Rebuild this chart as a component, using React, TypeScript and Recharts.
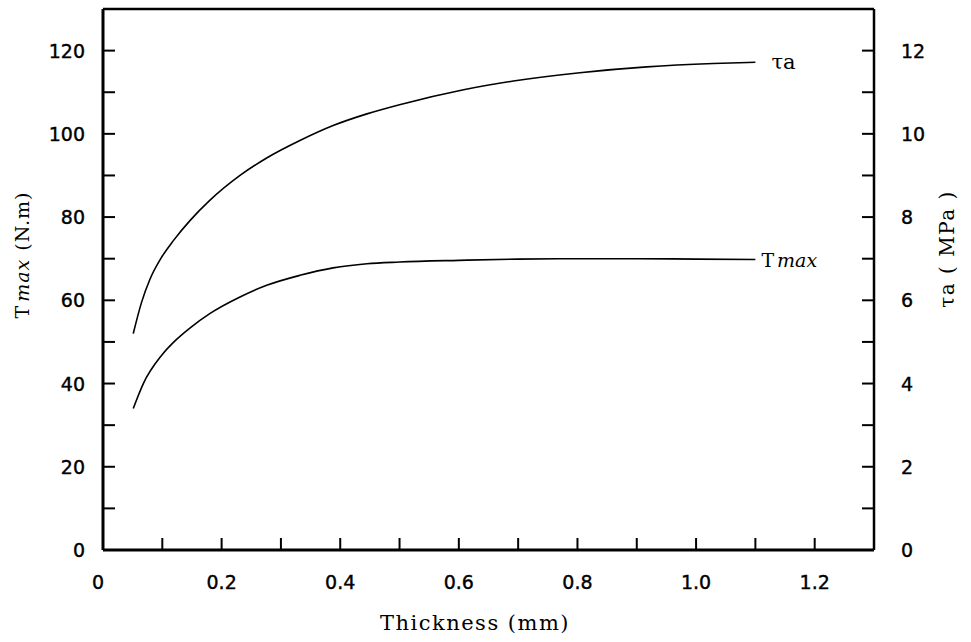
import { LineChart, Line, XAxis, YAxis, ReferenceLine, Label } from 'recharts';

// thickness (mm) and values
const tauThickness = [0.051, 0.065, 0.079, 0.099, 0.119, 0.147, 0.18, 0.231, 0.276, 0.332, 0.388, 0.445, 0.5, 0.608, 0.692, 0.804, 0.917, 1.029, 1.1];
const tauValues = [5.2, 5.95, 6.5, 7.04, 7.44, 7.92, 8.4, 9.0, 9.42, 9.84, 10.2, 10.48, 10.7, 11.06, 11.27, 11.47, 11.61, 11.69, 11.72];

const tmaxThickness = [0.051, 0.068, 0.099, 0.124, 0.147, 0.18, 0.231, 0.276, 0.332, 0.388, 0.445, 0.5, 0.6, 0.7, 0.8, 0.9, 1.0, 1.1];
const tmaxValues = [34, 40, 46.8, 50.6, 53.4, 56.8, 60.8, 63.6, 66, 67.8, 68.8, 69.2, 69.6, 69.9, 70.0, 70.0, 69.9, 69.8];

const xTicks = [0, 0.1, 0.2, 0.3, 0.4, 0.5, 0.6, 0.7, 0.8, 0.9, 1.0, 1.1, 1.2];
const leftTicks = [0, 10, 20, 30, 40, 50, 60, 70, 80, 90, 100, 110, 120];
const rightTicks = [0, 1, 2, 3, 4, 5, 6, 7, 8, 9, 10, 11, 12];

const tauData = tauThickness.map((x, i) => ({ x, tau: tauValues[i] }));
const tmaxData = tmaxThickness.map((x, i) => ({ x, tmax: tmaxValues[i] }));

const NUM_FONT = '"DejaVu Sans", sans-serif';
const TITLE_FONT = '"DejaVu Serif", serif';
const TICK_LEN = 12;
const LEFT_MARGIN = 18;
const RIGHT_MARGIN = 27;
const X_MARGIN = 22;

function LeftTick(props: any) {
  const { x, y, payload } = props;
  const ax = x + LEFT_MARGIN;
  const v = payload.value;
  return (
    <g>
      {v > 0 && <line x1={ax} y1={y} x2={ax + TICK_LEN} y2={y} stroke="#000" strokeWidth={2} />}
      {v % 20 === 0 && (
        <text x={x} y={y} textAnchor="end" dominantBaseline="central" fontFamily={NUM_FONT} fontSize={19} stroke="#000" strokeWidth={0.4} fill="#000">
          {v}
        </text>
      )}
    </g>
  );
}

function RightTick(props: any) {
  const { x, y, payload } = props;
  const ax = x - RIGHT_MARGIN;
  const v = payload.value;
  return (
    <g>
      {v > 0 && <line x1={ax} y1={y} x2={ax - TICK_LEN} y2={y} stroke="#000" strokeWidth={2} />}
      {v % 2 === 0 && (
        <text x={x} y={y} textAnchor="start" dominantBaseline="central" fontFamily={NUM_FONT} fontSize={19} stroke="#000" strokeWidth={0.4} fill="#000">
          {v}
        </text>
      )}
    </g>
  );
}

function BottomTick(props: any) {
  const { x, y, payload } = props;
  const ay = y - X_MARGIN;
  const v = payload.value;
  const major = Math.round(v * 10) % 2 === 0;
  return (
    <g>
      {v > 0 && <line x1={x} y1={ay} x2={x} y2={ay - TICK_LEN} stroke="#000" strokeWidth={2} />}
      {major && (
        <text x={v === 0 ? x - 5 : x} y={y + 10} textAnchor="middle" dominantBaseline="central" fontFamily={NUM_FONT} fontSize={19} stroke="#000" strokeWidth={0.4} fill="#000">
          {v === 0 ? '0' : v.toFixed(1)}
        </text>
      )}
    </g>
  );
}

function endLabel(count: number, render: (x: number, y: number) => any) {
  return (props: any) => {
    if (props.index !== count - 1) return null;
    return render(props.x, props.y);
  };
}

export default function App() {
  return (
    <div style={{ position: 'absolute', left: 0, top: 0, background: '#fff' }}>
      <LineChart width={971} height={642} margin={{ top: 9, right: 0, left: 0, bottom: 0 }}>
        <XAxis
          type="number"
          dataKey="x"
          domain={[0, 1.3]}
          ticks={xTicks}
          interval={0}
          allowDataOverflow
          height={92}
          tickSize={0}
          tickMargin={X_MARGIN}
          tickLine={false}
          axisLine={{ stroke: '#000', strokeWidth: 3 }}
          tick={<BottomTick />}
        >
          <Label
            content={() => (
              <text x={475} y={623} textAnchor="middle" dominantBaseline="central" fontFamily={TITLE_FONT} fontSize={21} letterSpacing={1.5} fill="#000">
                Thickness  (mm)
              </text>
            )}
          />
        </XAxis>
        <YAxis
          yAxisId="left"
          orientation="left"
          type="number"
          domain={[0, 130]}
          ticks={leftTicks}
          interval={0}
          width={103}
          tickSize={0}
          tickMargin={LEFT_MARGIN}
          tickLine={false}
          axisLine={{ stroke: '#000', strokeWidth: 3 }}
          tick={<LeftTick />}
        >
          <Label
            content={() => (
              <text transform="translate(22,255) rotate(-90)" textAnchor="middle" dominantBaseline="central" fontFamily={TITLE_FONT} fontSize={19} letterSpacing={1} fill="#000">
                T<tspan fontStyle="italic" dx={3}>max</tspan>
                <tspan dx={8}>(N.m)</tspan>
              </text>
            )}
          />
        </YAxis>
        <YAxis
          yAxisId="right"
          orientation="right"
          type="number"
          domain={[0, 13]}
          ticks={rightTicks}
          interval={0}
          width={97}
          tickSize={0}
          tickMargin={RIGHT_MARGIN}
          tickLine={false}
          axisLine={{ stroke: '#000', strokeWidth: 2.5 }}
          tick={<RightTick />}
        >
          <Label
            content={() => (
              <text transform="translate(947,249) rotate(-90)" textAnchor="middle" dominantBaseline="central" fontFamily={TITLE_FONT} fontSize={20} letterSpacing={1.5} fill="#000">
                τa  (  MPa  )
              </text>
            )}
          />
        </YAxis>
        <ReferenceLine yAxisId="left" y={130} stroke="#000" strokeWidth={2.5} />
        <Line
          yAxisId="right"
          data={tauData}
          dataKey="tau"
          type="monotone"
          stroke="#000"
          strokeWidth={1.6}
          dot={false}
          isAnimationActive={false}
          label={endLabel(tauData.length, (x, y) => (
            <text x={x + 16} y={y} dominantBaseline="central" fontFamily={TITLE_FONT} fontSize={21} fill="#000">
              τa
            </text>
          ))}
        />
        <Line
          yAxisId="left"
          data={tmaxData}
          dataKey="tmax"
          type="monotone"
          stroke="#000"
          strokeWidth={1.6}
          dot={false}
          isAnimationActive={false}
          label={endLabel(tmaxData.length, (x, y) => (
            <text x={x + 6} y={y} dominantBaseline="central" fontFamily={TITLE_FONT} fontSize={19} fill="#000">
              T<tspan fontStyle="italic" dx={3}>max</tspan>
            </text>
          ))}
        />
      </LineChart>
    </div>
  );
}
